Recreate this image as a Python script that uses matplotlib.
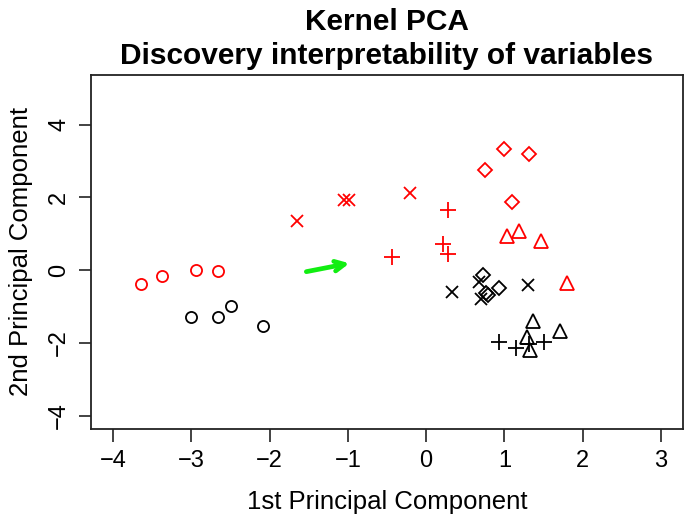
import matplotlib
matplotlib.use("Agg")
import matplotlib.pyplot as plt

plt.rcParams['font.family'] = ['Liberation Sans', 'DejaVu Sans']

# Red group (first set)
red_circle_x = [-3.64, -3.37, -2.94, -2.66]
red_circle_y = [-0.39, -0.15, 0.01, -0.03]
red_cross_x = [-1.65, -1.05, -0.99, -0.21]
red_cross_y = [1.35, 1.94, 1.94, 2.13]
red_plus_x = [0.28, 0.21, 0.28, -0.44]
red_plus_y = [1.66, 0.73, 0.45, 0.36]
red_diamond_x = [0.99, 1.31, 0.75, 1.10]
red_diamond_y = [3.34, 3.19, 2.74, 1.87]
red_triangle_x = [1.03, 1.18, 1.47, 1.80]
red_triangle_y = [0.93, 1.09, 0.80, -0.35]

# Black group
black_circle_x = [-3.00, -2.66, -2.49, -2.08]
black_circle_y = [-1.29, -1.29, -0.99, -1.54]
black_cross_x = [0.33, 0.68, 0.70, 1.30]
black_cross_y = [-0.61, -0.33, -0.78, -0.40]
black_plus_x = [0.93, 1.15, 1.31, 1.50]
black_plus_y = [-1.96, -2.14, -2.03, -1.98]
black_diamond_x = [0.73, 0.93, 0.76, 0.79]
black_diamond_y = [-0.12, -0.50, -0.63, -0.69]
black_triangle_x = [1.36, 1.71, 1.29, 1.33]
black_triangle_y = [-1.39, -1.68, -1.83, -2.19]

arrow_start = (-1.53, -0.04)
arrow_end = (-0.98, 0.19)

x_ticks = [-4, -3, -2, -1, 0, 1, 2, 3]
y_ticks = [-4, -2, 0, 2, 4]

fig = plt.figure(figsize=(6.85, 5.2), dpi=100)
ax = fig.add_axes([91/685, 1-429/520, (683-91)/685, (429-75)/520])

ms = 8
lw = 1.3

def pts(x, y, marker, color, size=ms):
    ax.plot(x, y, linestyle='none', marker=marker, markersize=size,
            markerfacecolor='none', markeredgecolor=color, markeredgewidth=lw)

red = '#FF0000'
blk = '#000000'
pts(red_circle_x, red_circle_y, 'o', red)
pts(black_circle_x, black_circle_y, 'o', blk)
pts(red_cross_x, red_cross_y, 'x', red, 9)
pts(black_cross_x, black_cross_y, 'x', blk, 9)
pts(red_plus_x, red_plus_y, '+', red, 11)
pts(black_plus_x, black_plus_y, '+', blk, 11)
pts(red_diamond_x, red_diamond_y, 'D', red, 7.5)
pts(black_diamond_x, black_diamond_y, 'D', blk, 7.5)
pts(red_triangle_x, red_triangle_y, '^', red, 10)
pts(black_triangle_x, black_triangle_y, '^', blk, 10)

ax.annotate('', xy=arrow_end, xytext=arrow_start,
            arrowprops=dict(arrowstyle='->,head_length=0.7,head_width=0.35',
                            color='#11EE11', lw=3.4, shrinkA=0, shrinkB=0,
                            capstyle='round', joinstyle='round'))

ax.set_xlim(-4.28, 3.28)
ax.set_ylim(-4.36, 5.36)
ax.set_xticks(x_ticks)
ax.set_xticklabels(['\u2212' + str(-t) if t < 0 else str(t) for t in x_ticks])
ax.set_yticks(y_ticks)
ax.set_yticklabels(['\u2212' + str(-t) if t < 0 else str(t) for t in y_ticks],
                   rotation=90, va='center')
ax.tick_params(axis='both', labelsize=17, length=9, width=1.2, pad=6, color='#222222')
for s in ax.spines.values():
    s.set_linewidth(1.3)
    s.set_color('#222222')

ax.set_xlabel('1st Principal Component', fontsize=18.5, labelpad=13)
ax.set_ylabel('2nd Principal Component', fontsize=18.5, labelpad=11)
fig.text(387/685, 1-29.5/520, 'Kernel PCA', ha='center', va='baseline',
         fontsize=21.5, fontweight='bold')
fig.text(387/685, 1-64/520, 'Discovery interpretability of variables', ha='center',
         va='baseline', fontsize=21.5, fontweight='bold')

fig.savefig('out.png', dpi=100)
